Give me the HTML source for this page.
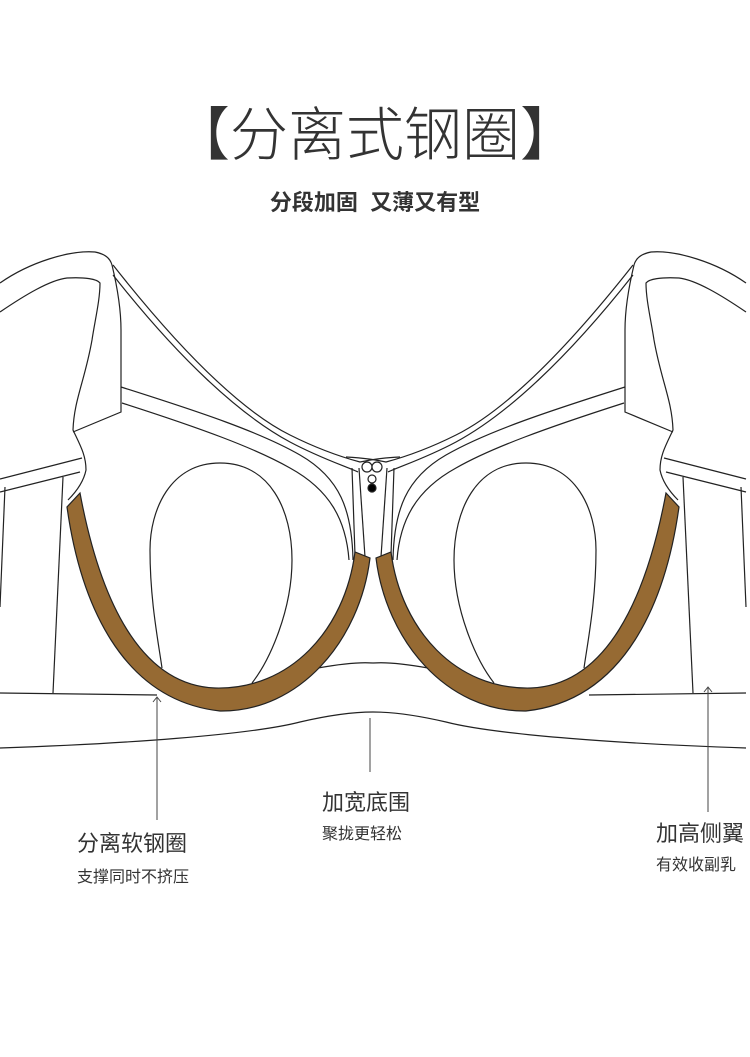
<!DOCTYPE html>
<html><head><meta charset="utf-8"><style>
body{margin:0;width:750px;height:1057px;background:#fff;position:relative;overflow:hidden;font-family:"Liberation Sans","Noto Sans CJK SC",sans-serif;color:#222}
.t{position:absolute;white-space:nowrap}
</style></head><body>
<div class="t" style="left:0;width:750px;text-align:center;top:88px;font-size:58px;font-weight:300;color:#333">【分离式钢圈】</div>
<div class="t" style="left:0;width:750px;text-align:center;top:185px;font-size:22px;font-weight:bold;color:#333">分段加固&nbsp; 又薄又有型</div>
<svg width="750" height="1057" style="position:absolute;left:0;top:0" fill="none" stroke="#222" stroke-width="1.2">
<g id="h">
<path d="M0,283 C30,262 70,250 95,252 C105,254 110,258 112,265 C118,290 121,310 121,330 L121,412 L73,432"/>
<path d="M0,312 C25,295 50,280 67,278 C85,277 97,279 100,283 C100,300 95,320 92,340 C85,380 74,400 73,430 C80,445 86,455 86,470 C84,480 78,490 68,500"/>
<path d="M113,265 C180,350 240,410 290,435 C320,450 345,458 360,462 C370,460 380,458 400,457"/>
<path d="M113,275 C180,360 240,415 290,442 C320,458 345,466 358,472"/>
<path d="M121,387 C200,412 260,432 300,455 C340,478 352,510 353,560"/>
<path d="M122,403 C200,428 255,448 290,468 C330,490 346,520 349,560"/>
<path d="M0,479 L82,458"/><path d="M0,492 L80,472"/>
<path d="M5,487 L0,607"/><path d="M63,477 L53,693"/>
<path d="M352,468 L355,555"/><path d="M359,468 L365,557"/>
<path d="M220,463 C170,463 150,510 150,550 C150,600 158,640 162,668"/>
<path d="M220,463 C270,463 292,510 292,560 C292,610 270,660 252,683"/>
<path d="M0,693 L157,695"/>
<path d="M0,748 C120,744 250,735 300,722 C330,715 355,712 373,712"/>
<path d="M318,668 C340,664 360,662 373,663"/>
<path d="M67,507 C80,600 120,700 220,711 C300,712 360,640 370,558 L355,552 C345,630 290,690 215,688 C140,685 100,600 80,493 Z" fill="#966a33" stroke="#222"/>
</g>
<use href="#h" transform="translate(746,0) scale(-1,1)"/>
<circle cx="367" cy="467" r="5" fill="#fff"/><circle cx="377" cy="467" r="5" fill="#fff"/>
<circle cx="372" cy="479" r="4" fill="#fff"/><circle cx="372" cy="488" r="4" fill="#000"/>
<g stroke="#444" stroke-width="1">
<path d="M157,697 L157,820"/><path d="M153,702 L157,697 L161,702"/>
<path d="M370,718 L370,772"/>
<path d="M708,687 L708,812"/><path d="M704,692 L708,687 L712,692"/>
</g>
</svg>
<div class="t" style="left:77px;top:826px;font-size:22px;color:#333">分离软钢圈</div>
<div class="t" style="left:77px;top:863px;font-size:16px;color:#333">支撑同时不挤压</div>
<div class="t" style="left:322px;top:785px;font-size:22px;color:#333">加宽底围</div>
<div class="t" style="left:322px;top:820px;font-size:16px;color:#333">聚拢更轻松</div>
<div class="t" style="left:656px;top:816px;font-size:22px;color:#333">加高侧翼</div>
<div class="t" style="left:656px;top:851px;font-size:16px;color:#333">有效收副乳</div>
</body></html>
